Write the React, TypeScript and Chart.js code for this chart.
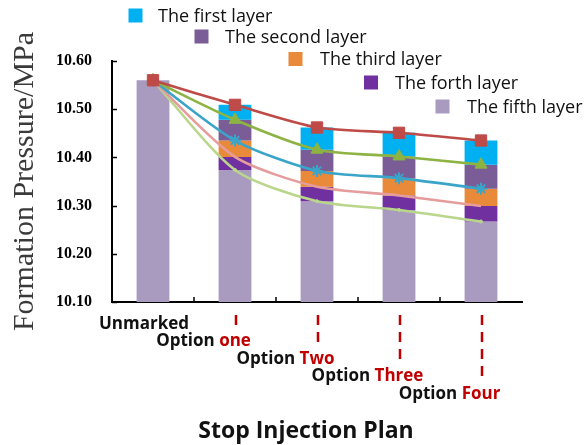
import { useEffect, useRef } from 'react';
import { Chart, registerables } from 'chart.js';

Chart.register(...registerables);

const categories = ['Unmarked', 'Option one', 'Option Two', 'Option Three', 'Option Four'];
const labelPrefix = ['', 'Option ', 'Option ', 'Option ', 'Option '];
const labelWord = ['Unmarked', 'one', 'Two', 'Three', 'Four'];
const layerNames = ['The first layer', 'The second layer', 'The third layer', 'The forth layer', 'The fifth layer'];

// top pressure of each layer segment (MPa)
const firstLayer = [10.56, 10.509, 10.462, 10.451, 10.435];
const secondLayer = [10.56, 10.478, 10.416, 10.402, 10.385];
const thirdLayer = [10.56, 10.435, 10.372, 10.357, 10.335];
const forthLayer = [10.56, 10.401, 10.339, 10.321, 10.299];
const fifthLayer = [10.56, 10.374, 10.309, 10.291, 10.267];

const yTicks = [10.1, 10.2, 10.3, 10.4, 10.5, 10.6];

const barColors = ['#00B0F0', '#7A5C96', '#E88A3A', '#7030A0', '#A99BBF'];
const lineColors = ['#BE4B48', '#8DB443', '#3AA5C8', '#E59C9C', '#B9D68C'];
const lineMarkers = ['rect', 'triangle', 'star', 'circle', 'circle'];
const lineMarkerSize = [8, 7, 6, 0, 1.5];

const SANS = '"Open Sans", sans-serif';
const SERIF = '"Liberation Serif", serif';

export default function App() {
  const ref = useRef<HTMLCanvasElement>(null);

  useEffect(() => {
    const layers = [firstLayer, secondLayer, thirdLayer, forthLayer, fifthLayer];
    const barSets: any[] = layers.map((arr, k) => ({
      type: 'bar',
      label: layerNames[k],
      data: k < 4 ? arr.map((v, i) => [layers[k + 1][i], v]) : arr.slice(),
      backgroundColor: barColors[k],
      borderWidth: 0,
      barPercentage: 0.4,
      categoryPercentage: 1,
      grouped: false,
      order: 2,
    }));
    const lineSets: any[] = layers.map((arr, k) => ({
      type: 'line',
      label: 'line' + k,
      data: arr.slice(),
      borderColor: lineColors[k],
      backgroundColor: lineColors[k],
      borderWidth: 2.6,
      pointStyle: lineMarkers[k],
      pointRadius: lineMarkerSize[k],
      pointBorderColor: lineColors[k],
      pointBackgroundColor: lineColors[k],
      pointBorderWidth: k === 2 ? 2 : 1,
      tension: 0.25,
      fill: false,
      order: 1,
    }));

    const overlay = {
      id: 'overlay',
      afterDraw(chart: any) {
        const ctx = chart.ctx as CanvasRenderingContext2D;
        const xs = chart.scales.x;
        const ys = chart.scales.y;
        const a = chart.chartArea;
        ctx.save();
        // inward tick marks
        ctx.strokeStyle = '#000';
        ctx.lineWidth = 1.5;
        yTicks.forEach((v) => {
          const y = Math.round(ys.getPixelForValue(v)) + 0.5;
          ctx.beginPath();
          ctx.moveTo(a.left, y);
          ctx.lineTo(a.left + 5, y);
          ctx.stroke();
        });
        for (let i = 0; i < categories.length - 1; i++) {
          const x = (xs.getPixelForValue(i) + xs.getPixelForValue(i + 1)) / 2;
          ctx.beginPath();
          ctx.moveTo(x, a.bottom);
          ctx.lineTo(x, a.bottom - 5);
          ctx.stroke();
        }
        // category labels
        ctx.font = 'bold 17px ' + SANS;
        ctx.textBaseline = 'alphabetic';
        categories.forEach((_, i) => {
          const cx = xs.getPixelForValue(i);
          const by = a.bottom + 27 + i * 17.4;
          if (!labelPrefix[i]) {
            ctx.fillStyle = '#111';
            ctx.textAlign = 'center';
            ctx.fillText(labelWord[i], cx - 9, by);
            return;
          }
          const w = ctx.measureText(labelWord[i]).width;
          const left = cx - w / 2;
          ctx.textAlign = 'right';
          ctx.fillStyle = '#111';
          ctx.fillText(labelPrefix[i], left, by);
          ctx.textAlign = 'left';
          ctx.fillStyle = '#C00000';
          ctx.fillText(labelWord[i], left, by);
          // red dashed guide
          ctx.strokeStyle = '#C00000';
          ctx.lineWidth = 2.5;
          ctx.setLineDash([10, 7]);
          ctx.beginPath();
          ctx.moveTo(cx + 1, a.bottom + 13);
          ctx.lineTo(cx + 1, by - 16);
          ctx.stroke();
          ctx.setLineDash([]);
        });
        // axis title
        ctx.font = 'bold 23px ' + SANS;
        ctx.fillStyle = '#111';
        ctx.textAlign = 'center';
        ctx.fillText('Stop Injection Plan', 306, 438);
        // staggered legend
        const legendPos = [
          [135.5, 15.5, 158],
          [201.5, 36.5, 225],
          [295.5, 59, 320],
          [371, 82.5, 395],
          [442.5, 106.5, 467],
        ];
        ctx.font = '18px ' + SANS;
        ctx.textAlign = 'left';
        layerNames.forEach((name, k) => {
          const [bx, bY, tx] = legendPos[k];
          ctx.fillStyle = barColors[k];
          ctx.fillRect(bx - 7, bY - 7, 14, 14);
          ctx.fillStyle = '#111';
          ctx.fillText(name, tx, bY + 6);
        });
        ctx.restore();
      },
    };

    const chart = new Chart(ref.current!, {
      type: 'bar',
      data: { labels: categories, datasets: [...lineSets, ...barSets] },
      options: {
        responsive: false,
        animation: false,
        layout: { padding: { left: 0, right: 65, top: 61, bottom: 0 } },
        plugins: { legend: { display: false }, tooltip: { enabled: false } },
        scales: {
          x: {
            offset: true,
            grid: { display: true, drawOnChartArea: false, drawTicks: false, offset: true },
            border: { display: true, color: '#000', width: 2 },
            ticks: { display: false },
            afterFit: (s: any) => { s.height = 143; },
          },
          y: {
            min: 10.1,
            max: 10.6,
            grid: { display: true, drawOnChartArea: false, drawTicks: false },
            border: { display: true, color: '#000', width: 2 },
            afterBuildTicks: (s: any) => { s.ticks = yTicks.map((v) => ({ value: v })); },
            ticks: {
              padding: 20,
              color: '#000',
              font: { family: SERIF, size: 16, weight: 'bold' },
              callback: (v: any) => Number(v).toFixed(2),
            },
            title: {
              display: true,
              text: 'Formation Pressure/MPa',
              color: '#3a3a3a',
              font: { family: SERIF, size: 30, weight: 'normal' },
              padding: { top: 7, bottom: 0 },
            },
            afterFit: (s: any) => { s.width = 112; },
          },
        },
      },
      plugins: [overlay],
    } as any);
    return () => chart.destroy();
  }, []);

  return (
    <div style={{ position: 'fixed', left: 0, top: 0, width: 587, height: 445, background: '#fff' }}>
      <canvas ref={ref} width={587} height={445} />
    </div>
  );
}
